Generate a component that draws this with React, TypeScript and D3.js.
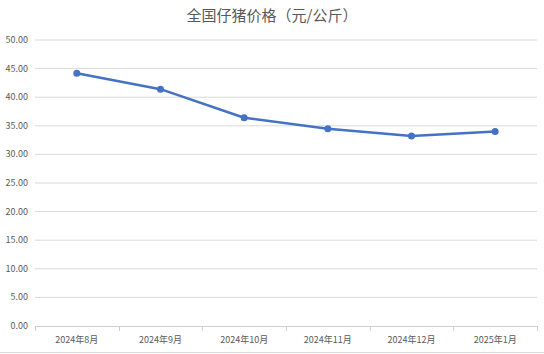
import React from 'react'
import * as d3 from 'd3'

const months = ['2024年8月', '2024年9月', '2024年10月', '2024年11月', '2024年12月', '2025年1月']
const prices = [44.2, 41.4, 36.4, 34.5, 33.2, 34.0]
const yTicks = [0, 5, 10, 15, 20, 25, 30, 35, 40, 45, 50]
const title = '全国仔猪价格（元/公斤）'

export default function App() {
  const W = 544
  const H = 354
  const left = 35
  const right = 537
  const top = 40
  const bottom = 326
  const font = '"Microsoft YaHei", "Noto Sans CJK SC", "DejaVu Sans", sans-serif'
  const textColor = '#595959'

  const x = d3.scaleBand<string>().domain(months).range([left, right])
  const y = d3.scaleLinear().domain([0, 50]).range([bottom, top])

  const line = d3.line<number>()
    .x((d, i) => (x(months[i]) as number) + x.bandwidth() / 2)
    .y(d => y(d))

  const bounds = [...months.map(m => x(m) as number), right]

  return (
    <svg width={W} height={H} style={{position: 'absolute', left: 0, top: 0, background: '#fff'}}>
      <text x={W / 2} y={21} textAnchor="middle" fontSize={15} fill={textColor} fontFamily={font}>{title}</text>
      {yTicks.map(t => (
        <g key={t}>
          {t > 0 && <line x1={left} x2={right} y1={y(t)} y2={y(t)} stroke="#d9d9d9" strokeWidth={1} />}
          <text x={28} y={y(t) + 3} textAnchor="end" fontSize={9} fill={textColor} fontFamily={font}>{t.toFixed(2)}</text>
        </g>
      ))}
      <line x1={left} x2={right} y1={bottom + 0.5} y2={bottom + 0.5} stroke="#d0d0d0" />
      {bounds.map((b, i) => (
        <line key={i} x1={Math.round(b) + 0.5} x2={Math.round(b) + 0.5} y1={bottom} y2={bottom + 5} stroke="#d0d0d0" />
      ))}
      {months.map(m => (
        <text key={m} x={(x(m) as number) + x.bandwidth() / 2} y={bottom + 17} textAnchor="middle" fontSize={9} fill={textColor} fontFamily={font}>{m}</text>
      ))}
      <path d={line(prices) || ''} fill="none" stroke="#4472C4" strokeWidth={2.5} strokeLinejoin="round" />
      {prices.map((p, i) => (
        <circle key={i} cx={(x(months[i]) as number) + x.bandwidth() / 2} cy={y(p)} r={3.5} fill="#4472C4" />
      ))}
      <line x1={0} x2={W} y1={352.5} y2={352.5} stroke="#d9d9d9" />
    </svg>
  )
}
